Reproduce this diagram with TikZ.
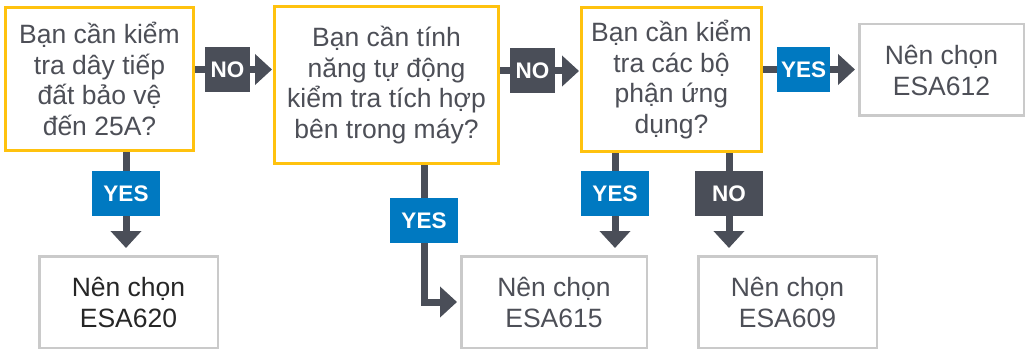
\documentclass[tikz,border=0pt]{standalone}
\usepackage{fontspec}
\setmainfont{Liberation Sans}
\usetikzlibrary{arrows.meta}
\definecolor{giallo}{HTML}{FFC20E}
\definecolor{grigioscuro}{HTML}{4A4E58}
\definecolor{blu}{HTML}{0079C1}
\definecolor{grigio}{HTML}{CACACA}
\definecolor{testo}{HTML}{4D4F57}
\begin{document}
\begin{tikzpicture}[x=1pt, y=-1pt,
    domanda/.style={draw=giallo, line width=3pt, fill=white, text=testo, align=center,
        font=\fontsize{26.5}{30.5}\selectfont, inner sep=0pt},
    risposta/.style={draw=grigio, line width=2.5pt, fill=white, text=testo, align=center,
        font=\fontsize{26.5}{31}\selectfont, minimum height=91.5pt, inner sep=0pt},
    etisi/.style={fill=blu, text=white, font=\bfseries\fontsize{22.5}{22.5}\selectfont,
        minimum width=68pt, minimum height=45pt, inner sep=0pt},
    etino/.style={fill=grigioscuro, text=white, font=\bfseries\fontsize{22.5}{22.5}\selectfont,
        minimum width=45pt, minimum height=45pt, inner sep=0pt},
    linea/.style={draw=grigioscuro, line width=7pt},
    freccia/.style={linea, -{Triangle[width=30pt,length=17pt]}}]
    \useasboundingbox (0,0) rectangle (1027,350);
    %domande
    \node[domanda, minimum width=188pt, minimum height=143pt] (b1) at (99.5,79)
        {Bạn cần kiểm\\tra dây tiếp\\đất bảo vệ\\đến 25A?};
    \node[domanda, minimum width=224pt, minimum height=157pt] (b2) at (386.5,85)
        {Bạn cần tính\\năng tự động\\kiểm tra tích hợp\\bên trong máy?};
    \node[domanda, minimum width=180pt, minimum height=144pt] (b3) at (671.5,79.5)
        {Bạn cần kiểm\\tra các bộ\\phận ứng\\dụng?};
    %risposte
    \node[risposta, minimum width=164.5pt] (e612) at (941.5,70) {Nên chọn\\ESA612};
    \node[risposta, minimum width=178.5pt, text=black!85] (e620) at (128.5,302) {Nên chọn\\ESA620};
    \node[risposta, minimum width=185.5pt] (e615) at (554,302) {Nên chọn\\ESA615};
    \node[risposta, minimum width=178.5pt] (e609) at (787.5,302) {Nên chọn\\ESA609};
    %etichette
    \node[etino] (n1) at (227.5,69.5) {NO};
    \node[etino] (n2) at (532.5,71) {NO};
    \node[etisi, minimum width=53pt] (y4) at (803.5,69.5) {YES};
    \node[etisi] (y1) at (126,193.5) {YES};
    \node[etisi] (y2) at (424,220.5) {YES};
    \node[etisi] (y3) at (615,193.5) {YES};
    \node[etino, minimum width=68pt] (n3) at (729,193.5) {NO};
    %frecce
    \draw[linea] (b1.east |- n1) -- (n1);
    \draw[freccia, shorten >=1pt] (n1) -- (b2.west |- n1);
    \draw[linea] (b2.east |- n2) -- (n2);
    \draw[freccia, shorten >=1pt] (n2) -- (b3.west |- n2);
    \draw[linea] (b3.east |- y4) -- (y4);
    \draw[freccia, shorten >=3pt] (y4) -- (e612.west |- y4);
    \draw[linea] (b1.south -| y1) -- (y1);
    \draw[freccia, shorten >=7pt] (y1) -- (y1 |- e620.north);
    \draw[linea] (b2.south -| y2) -- (y2);
    \draw[freccia, shorten >=3pt] (y2) |- (e615.west);
    \draw[linea] (b3.south -| y3) -- (y3);
    \draw[freccia, shorten >=7pt] (y3) -- (y3 |- e615.north);
    \draw[linea] (b3.south -| n3) -- (n3);
    \draw[freccia, shorten >=7pt] (n3) -- (n3 |- e609.north);
\end{tikzpicture}
\end{document}
